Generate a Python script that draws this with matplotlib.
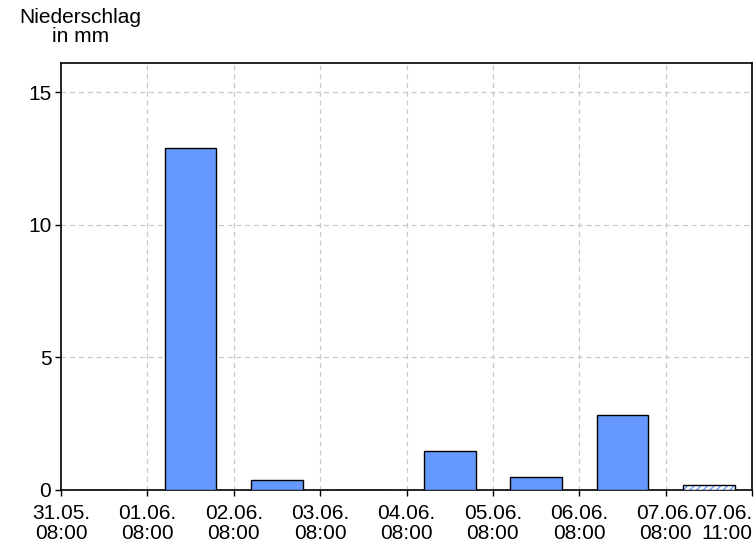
import numpy as np
import matplotlib.pyplot as plt

plt.rcParams['font.family'] = ['Liberation Sans', 'DejaVu Sans']

# tick labels (interval boundaries) and daily precipitation
tick_labels = ['31.05.\n08:00', '01.06.\n08:00', '02.06.\n08:00', '03.06.\n08:00',
               '04.06.\n08:00', '05.06.\n08:00', '06.06.\n08:00', '07.06.\n08:00',
               '07.06.\n11:00']
values = [0.0, 12.9, 0.37, 0.0, 1.46, 0.48, 2.82]
partial_value = 0.2   # 07.06. 08:00 - 11:00, incomplete

fig = plt.figure(figsize=(7.56, 5.46), dpi=100)
ax = fig.add_axes([0.0807, 0.1026, 0.914, 0.782])

x = np.arange(len(values)) + 0.5
ax.bar(x, values, width=0.6, color='#6699ff', edgecolor='black', linewidth=1, zorder=3)
# partial interval: blue hatch, black outline
xp = len(values) + 0.5
ax.bar(xp, partial_value, width=0.6, color='white', edgecolor='#6699ff',
       linewidth=0, hatch='/////', zorder=3)
ax.bar(xp, partial_value, width=0.6, fill=False, edgecolor='black', linewidth=1, zorder=4)

ax.set_xlim(0, len(tick_labels) - 1)
ax.set_ylim(0, 16.1)
ax.set_xticks(np.arange(len(tick_labels)))
ax.set_xticklabels(tick_labels, fontsize=15, linespacing=1.1)
ax.get_xticklabels()[-1].set_horizontalalignment('right')
ax.set_yticks([0, 5, 10, 15])
ax.set_yticklabels(['0', '5', '10', '15'], fontsize=15)
ax.tick_params(axis='both', direction='out', length=4, width=1, color='black')
ax.tick_params(axis='x', pad=6)
ax.tick_params(axis='y', pad=3)

for v in [5, 10, 15]:
    ax.axhline(v, color='#c8c8c8', linestyle=(0, (4, 3)), linewidth=0.9, zorder=1)
for t in range(1, len(tick_labels) - 1):
    ax.axvline(t, color='#c8c8c8', linestyle=(0, (4, 3)), linewidth=0.9, zorder=1)

for s in ax.spines.values():
    s.set_linewidth(1.2)

fig.text(0.106, 0.985, 'Niederschlag\nin mm', ha='center', va='top', fontsize=15,
         linespacing=1.0)

fig.savefig('out.png', dpi=100)
